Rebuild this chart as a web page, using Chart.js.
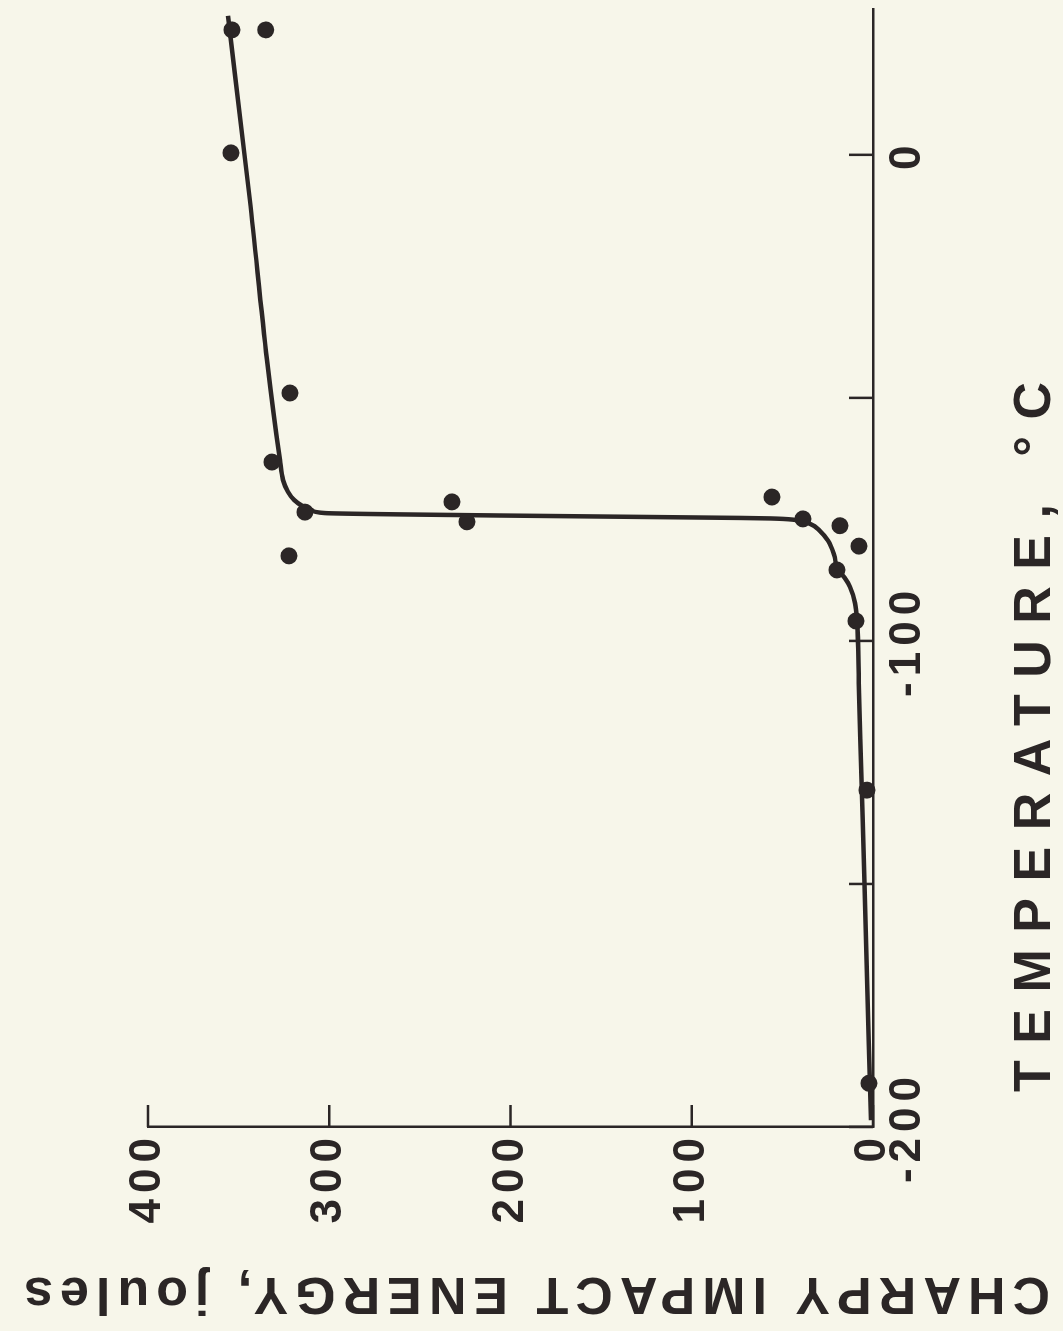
<!DOCTYPE html>
<html>
<head>
<meta charset="utf-8">
<title>Charpy impact energy vs temperature</title>
<script src="https://cdn.jsdelivr.net/npm/chart.js@4"></script>
<style>
  html, body { margin: 0; padding: 0; background: #f7f6ea; overflow: hidden; }
  body { width: 1063px; height: 1331px; position: relative; }
  /* the figure is laid out landscape and turned a quarter turn counter-clockwise */
  #frame {
    position: absolute; left: 0; top: 0;
    width: 1331px; height: 1063px;
    transform-origin: 0 0;
    transform: translate(0, 1331px) rotate(-90deg);
  }
  canvas { display: block; }
</style>
</head>
<body>
<div id="frame"><canvas id="chart" width="1331" height="1063"></canvas></div>
<script>
// Measured Charpy specimens
const testTemperatureC = [25.7, 25.7, 0.4, -49.0, -63.2, -73.5, -82.5, -71.4, -75.5, -70.4, -74.9, -76.3, -80.5, -85.4, -95.9, -130.7, -191.0];
const testEnergyJ      = [353.7, 335.0, 354.2, 321.7, 331.6, 313.4, 322.2, 232.3, 224.0, 55.7, 38.6, 18.2, 7.7, 19.9, 9.4, 3.3, 2.2];

// Fitted transition curve
const curveTemperatureC = [-198.6, -150.0, -120.0, -108.6, -95.7, -92.2, -88.9, -87.0, -85.4, -82.3, -79.4, -77.4, -75.9, -75.1, -74.8, -74.7,
                           -74.2, -73.7, -73.1, -72.2, -71.0, -69.3, -66.9, -62.8, -42.2, -9.3, 28.6];
const curveEnergyJ      = [1.1, 4.7, 7.0, 7.8, 8.8, 9.9, 12.7, 15.7, 19.3, 21.5, 24.8, 29.2, 34.8, 43.0, 56.8, 73.4,
                           205.8, 302.3, 309.5, 315.0, 319.4, 322.8, 325.5, 327.2, 334.3, 343.8, 355.9];

// Axes
const temperatureTicks      = [-200, -150, -100, -50, 0];
const temperatureTickLabels = ['-200', '', '-100', '', '0'];
const energyTicks           = [0, 100, 200, 300, 400];
const energyTickLabels      = ['0', '100', '200', '300', '400'];
const temperatureRange      = [-200, 30];
const energyRange           = [0, 400];
const temperatureTitle      = 'TEMPERATURE, °C';
const energyTitle           = 'CHARPY IMPACT ENERGY, joules';

const INK = '#2b2626';
const FACE = '"Liberation Sans", Arial, Helvetica, sans-serif';

const zip = (xs, ys) => xs.map((x, i) => ({ x, y: ys[i] }));

// short tick marks drawn on the inside of both axes
const inwardTicks = {
  id: 'inwardTicks',
  afterDatasetsDraw(chart) {
    const { ctx, chartArea: a, scales: { x, y } } = chart;
    ctx.save();
    ctx.strokeStyle = INK;
    ctx.lineWidth = 2.5;
    ctx.beginPath();
    temperatureTicks.forEach(t => {
      const px = x.getPixelForValue(t);
      ctx.moveTo(px, a.bottom);
      ctx.lineTo(px, a.bottom - 24);
    });
    energyTicks.forEach(e => {
      const py = y.getPixelForValue(e);
      ctx.moveTo(a.left, py);
      ctx.lineTo(a.left + 22, py);
    });
    ctx.stroke();
    ctx.restore();
  }
};

// spaced lettering for tick numbers
const tickLettering = {
  id: 'tickLettering',
  beforeDraw(chart) { chart.ctx.letterSpacing = '6px'; }
};

// axis captions, lettered wide like the drafting originals
const axisCaptions = {
  id: 'axisCaptions',
  afterDraw(chart) {
    const { ctx, chartArea: a, height } = chart;
    ctx.save();
    ctx.fillStyle = INK;
    ctx.font = 'bold 52px ' + FACE;
    ctx.textBaseline = 'alphabetic';
    ctx.textAlign = 'left';

    // temperature caption under the horizontal axis
    ctx.letterSpacing = '16.5px';
    ctx.fillText(temperatureTitle, a.left + 35, height - 13);

    // energy caption along the vertical axis
    ctx.letterSpacing = '7px';
    ctx.translate(53, height - 13);
    ctx.rotate(-Math.PI / 2);
    ctx.fillText(energyTitle, 0, 0);
    ctx.restore();
  }
};

const tickFont = { family: FACE, size: 44, weight: 'bold' };

new Chart(document.getElementById('chart'), {
  type: 'scatter',
  data: {
    datasets: [
      {
        type: 'line',
        data: zip(curveTemperatureC, curveEnergyJ),
        borderColor: INK,
        borderWidth: 4.5,
        pointRadius: 0,
        cubicInterpolationMode: 'monotone',
        fill: false,
        clip: false,
        order: 2
      },
      {
        data: zip(testTemperatureC, testEnergyJ),
        pointRadius: 8.5,
        pointHoverRadius: 8.5,
        backgroundColor: INK,
        borderWidth: 0,
        clip: false,
        order: 1
      }
    ]
  },
  options: {
    responsive: false,
    animation: false,
    devicePixelRatio: 1,
    events: [],
    layout: { padding: { left: 0, right: 9, top: 148, bottom: 0 } },
    plugins: { legend: { display: false }, tooltip: { enabled: false } },
    scales: {
      x: {
        type: 'linear',
        position: 'bottom',
        min: temperatureRange[0],
        max: temperatureRange[1],
        afterBuildTicks: s => { s.ticks = temperatureTicks.map(v => ({ value: v })); },
        afterFit: s => { s.height = 190; },
        grid: { display: false },
        border: { display: true, color: INK, width: 2.5 },
        ticks: {
          autoSkip: false, maxRotation: 0, minRotation: 0, padding: 0,
          color: INK, font: tickFont,
          callback: v => temperatureTickLabels[temperatureTicks.indexOf(v)] ?? ''
        }
      },
      y: {
        type: 'linear',
        position: 'left',
        min: energyRange[0],
        max: energyRange[1],
        afterBuildTicks: s => { s.ticks = energyTicks.map(v => ({ value: v })); },
        afterFit: s => { s.width = 204; },
        grid: { display: false },
        border: { display: true, color: INK, width: 2.5 },
        ticks: {
          autoSkip: false, padding: -3,
          color: INK, font: tickFont,
          callback: v => energyTickLabels[energyTicks.indexOf(v)] ?? ''
        }
      }
    }
  },
  plugins: [tickLettering, inwardTicks, axisCaptions]
});
</script>
</body>
</html>
